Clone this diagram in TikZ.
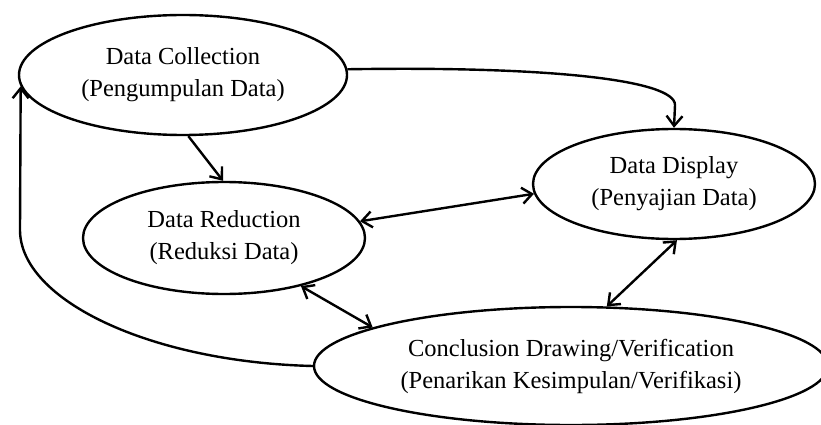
\documentclass[tikz,border=0pt]{standalone}
\usepackage{fontspec}
\setmainfont{Liberation Serif}
\usetikzlibrary{shapes.geometric,arrows.meta}
\begin{document}
\begin{tikzpicture}[x=1pt,y=-1pt,
  oval/.style={ellipse,draw,line width=2.4pt,inner sep=0pt,align=center,
    font=\fontsize{24.5}{32}\selectfont},
  tipb/.tip={Straight Barb[length=10pt,width=16pt,line width=2.4pt]},
  arr/.style={line width=2.4pt,-tipb},
  darr/.style={line width=2.4pt,tipb-tipb}]
\useasboundingbox (0,0) rectangle (821,425);
\clip (0,0) rectangle (821,425);
\node[oval,minimum width=328pt,minimum height=120pt] (dc) at (183,75)
  {Data Collection\\(Pengumpulan Data)};
\node[oval,minimum width=282pt,minimum height=112pt] (dr) at (224,238)
  {Data Reduction\\(Reduksi Data)};
\node[oval,minimum width=282pt,minimum height=110pt] (dd) at (674,184)
  {Data Display\\(Penyajian Data)};
\node[oval,minimum width=514pt,minimum height=118pt] (cd) at (571,366)
  {Conclusion Drawing/Verification\\(Penarikan Kesimpulan/Verifikasi)};
\draw[arr] (dc.-85) -- (dr.91);
\draw[arr] (dc.2) .. controls (550,66) and (675,80) .. (675,105) -- (dd.north);
\draw[darr] (dr.7) -- (dd.184);
\draw[darr] (dr.-32) -- (cd.169);
\draw[darr] (dd.-87) -- (cd.59);
\draw[arr] (cd.west) .. controls (150,362) and (20,300) .. (20,230) -- (dc.184);
\end{tikzpicture}
\end{document}
